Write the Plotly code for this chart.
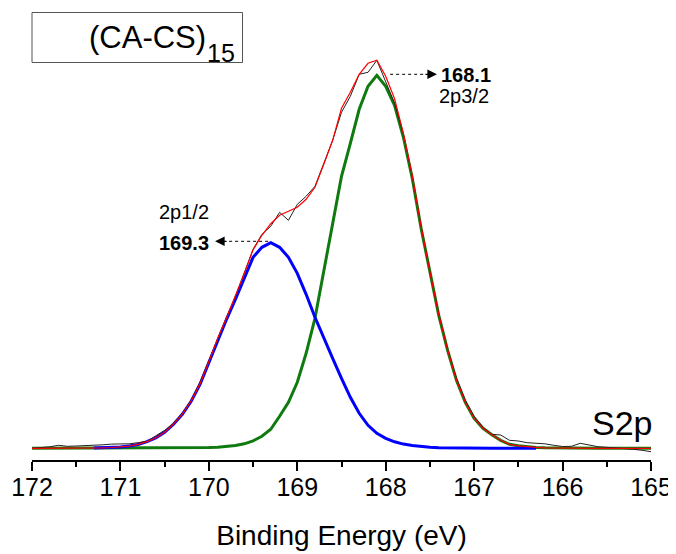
import plotly.graph_objects as go

# Binding energy grid (eV)
energy = [172.0, 171.9, 171.8, 171.7, 171.6, 171.5, 171.4, 171.3, 171.2, 171.1,
          171.0, 170.9, 170.8, 170.7, 170.6, 170.5, 170.4, 170.3, 170.2, 170.1,
          170.0, 169.9, 169.8, 169.7, 169.6, 169.5, 169.4, 169.3, 169.2, 169.1,
          169.0, 168.9, 168.8, 168.7, 168.6, 168.5, 168.4, 168.3, 168.2, 168.1,
          168.0, 167.9, 167.8, 167.7, 167.6, 167.5, 167.4, 167.3, 167.2, 167.1,
          167.0, 166.9, 166.8, 166.7, 166.6, 166.5, 166.4, 166.3, 166.2, 166.1,
          166.0, 165.9, 165.8, 165.7, 165.6, 165.5, 165.4, 165.3, 165.2, 165.1,
          165.0]

# Measured spectrum (a.u.)
measured = [0, 0.5, 1.5, 3, 2, 2.3, 2.5, 3, 3.5, 4.2,
            4, 4.5, 5.6, 7, 12.5, 18, 25, 35, 48, 66,
            88, 110, 131, 152, 175, 199, 214, 222, 236, 228,
            244, 252, 262, 285, 308, 336, 352, 374, 376, 388,
            367, 345, 314, 272, 222, 176, 134, 99, 70, 48,
            32, 21, 14, 13.3, 8, 7.3, 5.6, 5, 4.5, 3,
            1.8, 2, 5, 3.3, 1.6, 1, 0.5, 0, -1, -2,
            -3.4]

# Fitted envelope (a.u.)
envelope = [0, 0, 0, 0, 0, 0, 0.1, 0.3, 0.5, 0.8,
            1.3, 2.2, 3.9, 6.7, 10.6, 16.1, 24.1, 34.2, 47.3, 64.4,
            86.7, 110, 130.6, 151.8, 174.5, 198.5, 213, 224.6, 233, 237,
            241, 249, 261, 284, 308, 340, 356, 374, 385, 388,
            372, 349.5, 315, 273, 222, 176, 133.6, 98.4, 68.2, 46.1,
            30.1, 20, 13.5, 8, 4, 2.5, 1.5, 0.9, 0.5, 0.3,
            0.1, 0, 0, 0, 0, 0, 0, 0, 0, 0,
            0]

# S 2p3/2 component (a.u.)
comp_2p32 = [0, 0, 0, 0, 0, 0, 0, 0, 0, 0,
             0, 0, 0, 0.1, 0.1, 0.1, 0.1, 0.2, 0.3, 0.4,
             0.7, 1.1, 1.6, 2.8, 4.5, 7.5, 12, 19, 32, 46,
             66, 95, 130, 178, 225, 272, 305, 339, 362, 373,
             362, 343, 311, 270, 220, 175, 133, 98, 68, 46,
             30, 20, 13.5, 8, 4, 2.5, 1.5, 0.9, 0.5, 0.3,
             0.2, 0.1, 0, 0, 0, 0, 0, 0, 0, 0,
             0]

# S 2p1/2 component (a.u.), None where not drawn
comp_2p12 = [None, None, None, None, None, None, None, 0.3, 0.5, 0.8,
             1.3, 2.2, 3.8, 6.6, 10.5, 16, 24, 34, 47, 64,
             86, 109, 129, 149, 170, 191, 201, 205.6, 201, 191,
             175, 154, 131, 110, 90, 70, 51, 35, 23, 15,
             10, 6.5, 4.2, 2.8, 1.8, 1.1, 0.6, 0.4, 0.2, 0.1,
             0.1, 0, 0, 0, 0, 0, 0, 0, None, None,
             None, None, None, None, None, None, None, None, None, None,
             None]

x_ticks = [172, 171, 170, 169, 168, 167, 166, 165]
peak_labels = ["168.1", "169.3"]
peak_names = ["2p3/2", "2p1/2"]

FONT = "Liberation Sans, Arial, sans-serif"

# page offset (browser body margin) compensation
OFF = 8
W, H = 676 - OFF, 554 - OFF
L, R = 32 - OFF, 651 - OFF   # plot area left/right in figure px
B = 460 - OFF                # plot area bottom in figure px
PH = B                       # plot area height (top at 0)

fig = go.Figure()
fig.add_trace(go.Scatter(x=energy, y=comp_2p32, mode="lines",
                         line=dict(color="#0f7a0f", width=3), name="2p3/2"))
fig.add_trace(go.Scatter(x=energy, y=comp_2p12, mode="lines",
                         line=dict(color="#0000ff", width=3), name="2p1/2"))
fig.add_trace(go.Scatter(x=energy, y=measured, mode="lines",
                         line=dict(color="#222222", width=1), name="data"))
fig.add_trace(go.Scatter(x=energy, y=envelope, mode="lines",
                         line=dict(color="#ff0000", width=1.2), name="fit"))

# dotted leader lines
fig.add_shape(type="line", xref="x", yref="y", x0=167.95, x1=167.55, y0=374, y1=374,
              line=dict(color="black", width=1, dash="dot"))
fig.add_shape(type="line", xref="x", yref="y", x0=169.33, x1=169.80, y0=207, y1=207,
              line=dict(color="black", width=1, dash="dot"))
# arrow heads
fig.add_annotation(x=167.42, y=374, xref="x", yref="y", text="", showarrow=True,
                   ax=-13, ay=0, arrowhead=2, arrowsize=1.6, arrowwidth=1.2,
                   arrowcolor="black", standoff=0)
fig.add_annotation(x=169.93, y=207, xref="x", yref="y", text="", showarrow=True,
                   ax=13, ay=0, arrowhead=2, arrowsize=1.6, arrowwidth=1.2,
                   arrowcolor="black", standoff=0)


def px_x(p):
    # p: page pixel x -> paper coordinate
    return (p - OFF - L) / float(R - L)


def px_y(p):
    # p: page pixel y -> paper coordinate
    return 1 - (p - OFF) / float(PH)


fig.add_annotation(text="<b>" + peak_labels[0] + "</b>", x=px_x(439), y=px_y(75),
                   xref="paper", yref="paper", xanchor="left", yanchor="middle",
                   showarrow=False, font=dict(family=FONT, size=20, color="black"))
fig.add_annotation(text=peak_names[0], x=px_x(437), y=px_y(96),
                   xref="paper", yref="paper", xanchor="left", yanchor="middle",
                   showarrow=False, font=dict(family=FONT, size=20, color="black"))
fig.add_annotation(text="<b>" + peak_labels[1] + "</b>", x=px_x(211), y=px_y(243),
                   xref="paper", yref="paper", xanchor="right", yanchor="middle",
                   showarrow=False, font=dict(family=FONT, size=20, color="black"))
fig.add_annotation(text=peak_names[1], x=px_x(157), y=px_y(212),
                   xref="paper", yref="paper", xanchor="left", yanchor="middle",
                   showarrow=False, font=dict(family=FONT, size=20, color="black"))
fig.add_annotation(text="S2p", x=px_x(655), y=px_y(423),
                   xref="paper", yref="paper", xanchor="right", yanchor="middle",
                   showarrow=False, font=dict(family=FONT, size=34, color="black"))

# sample label box
fig.add_shape(type="rect", xref="paper", yref="paper",
              x0=px_x(32), x1=px_x(242.5), y0=px_y(62.5), y1=px_y(12.5),
              line=dict(color="#555555", width=1))
fig.add_annotation(text="(CA-CS)", x=px_x(87), y=px_y(37),
                   xref="paper", yref="paper", xanchor="left", yanchor="middle",
                   showarrow=False, font=dict(family=FONT, size=31, color="black"))
fig.add_annotation(text="15", x=px_x(205), y=px_y(53),
                   xref="paper", yref="paper", xanchor="left", yanchor="middle",
                   showarrow=False, font=dict(family=FONT, size=25, color="black"))

fig.update_layout(
    width=W, height=H,
    margin=dict(l=L, r=W - R, t=0, b=H - B, autoexpand=False),
    plot_bgcolor="white", paper_bgcolor="white",
    showlegend=False,
    font=dict(family=FONT, color="black"),
    xaxis=dict(range=[172, 165], tickvals=x_ticks, ticks="outside", ticklen=9,
               tickwidth=2, tickcolor="black", showline=True, linecolor="black",
               linewidth=2, showgrid=False, zeroline=False,
               ticklabelstandoff=-5,
               tickfont=dict(family=FONT, size=25, color="black"),
               minor=dict(dtick=0.5, tick0=165, ticks="outside", ticklen=5,
                          tickwidth=2, tickcolor="black", showgrid=False),
               title=dict(text="Binding Energy (eV)", standoff=25,
                          font=dict(family=FONT, size=28, color="black"))),
    yaxis=dict(range=[-11.7, 448.3 - OFF], visible=False, showgrid=False, zeroline=False),
)

fig.write_html("out.html")
